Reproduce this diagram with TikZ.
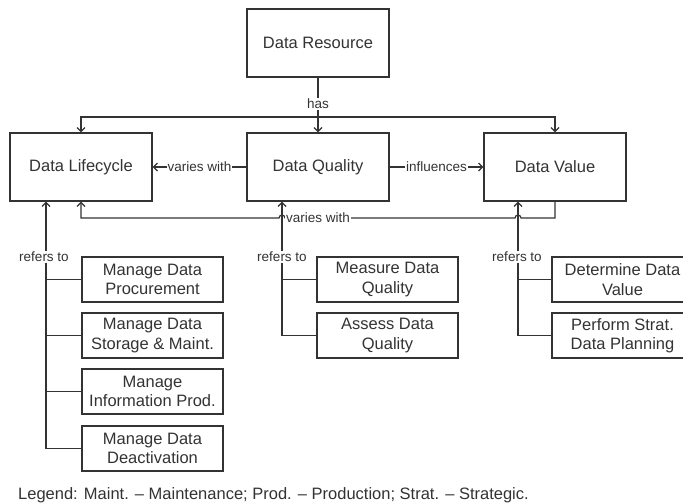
\documentclass[tikz,border=0pt]{standalone}
\usepackage{fontspec}
\setmainfont{Liberation Sans}
\usetikzlibrary{arrows.meta}
\definecolor{ink}{HTML}{333333}
\begin{document}
\begin{tikzpicture}[x=1pt,y=-1pt,
  box/.style={draw=ink, line width=1.3pt, text=ink, font=\fontsize{16.5}{19.5}\selectfont, align=center, inner sep=0pt},
  mainbox/.style={box, minimum width=142pt, minimum height=68pt},
  subbox/.style={box, minimum width=141pt, minimum height=45pt},
  conn/.style={draw=ink, line width=1.2pt},
  arr/.style={conn, -{Straight Barb[length=4pt,width=8pt]}},
  lbl/.style={fill=white, text=ink, font=\fontsize{13.5}{15}\selectfont, inner sep=1pt}
]
\useasboundingbox (0,0) rectangle (683,503);
\clip (0,0) rectangle (683,503);

% main boxes
\node[mainbox] (dr) at (318,43) {Data Resource};
\node[mainbox] (dl) at (81,167) {Data Lifecycle};
\node[mainbox] (dq) at (318,167) {Data Quality};
\node[mainbox] (dv) at (555,167) {Data Value};

% sub boxes
\node[subbox] (m1) at (152.5,279.5) {Manage Data\\Procurement};
\node[subbox] (m2) at (152.5,335.5) {Manage Data\\Storage \& Maint.};
\node[subbox] (m3) at (152.5,391.5) {Manage\\Information Prod.};
\node[subbox] (m4) at (152.5,448.5) {Manage Data\\Deactivation};
\node[subbox] (q1) at (387.5,279.5) {Measure Data\\Quality};
\node[subbox] (q2) at (387.5,335.5) {Assess Data\\Quality};
\node[subbox] (v1) at (622.5,279.5) {Determine Data\\Value};
\node[subbox] (v2) at (622.5,335.5) {Perform Strat.\\Data Planning};

% has
\coordinate (hasj) at (318,117);
\draw[conn] (dr.south) -- (hasj);
\draw[arr] (hasj) -- (dq.north);
\draw[arr] (hasj) -| (dl.north);
\draw[arr] (hasj) -| (dv.north);
\node[lbl] (haslbl) at (318,104) {has};

% varies with / influences
\draw[arr] (dq.west) -- node[lbl] (vw1) {varies with} (dl.east);
\draw[arr] (dq.east) -- node[lbl] (infl) {influences} (dv.west);

% bottom varies with (with line hops)
\draw[arr] (dv.south) -- (555,218) -- (521,218)
  arc[start angle=0, end angle=180, radius=3pt] -- (285,218)
  arc[start angle=0, end angle=180, radius=3pt] -- (81,218) -- (dl.south);
\node[lbl] (vw2) at (318,218) {varies with};

% refers to: lifecycle
\draw[arr] (m4.west) -| ([xshift=-35pt]dl.south);
\draw[conn] (m1.west) -- ++(-36,0);
\draw[conn] (m2.west) -- ++(-36,0);
\draw[conn] (m3.west) -- ++(-36,0);
\node[lbl] (r1) at (44,257) {refers to};

% refers to: quality
\draw[arr] (q2.west) -| ([xshift=-36pt]dq.south);
\draw[conn] (q1.west) -- ++(-35,0);
\node[lbl] (r2) at (282,257) {refers to};

% refers to: value
\draw[arr] (v2.west) -| ([xshift=-37pt]dv.south);
\draw[conn] (v1.west) -- ++(-34,0);
\node[lbl] (r3) at (517,257) {refers to};

% legend
\node[anchor=west, text=ink, inner sep=0pt, font=\fontsize{16.5}{19.5}\selectfont] (legend) at (18,495)
  {Legend: Maint. – Maintenance; Prod. – Production; Strat. – Strategic.};
\end{tikzpicture}
\end{document}
